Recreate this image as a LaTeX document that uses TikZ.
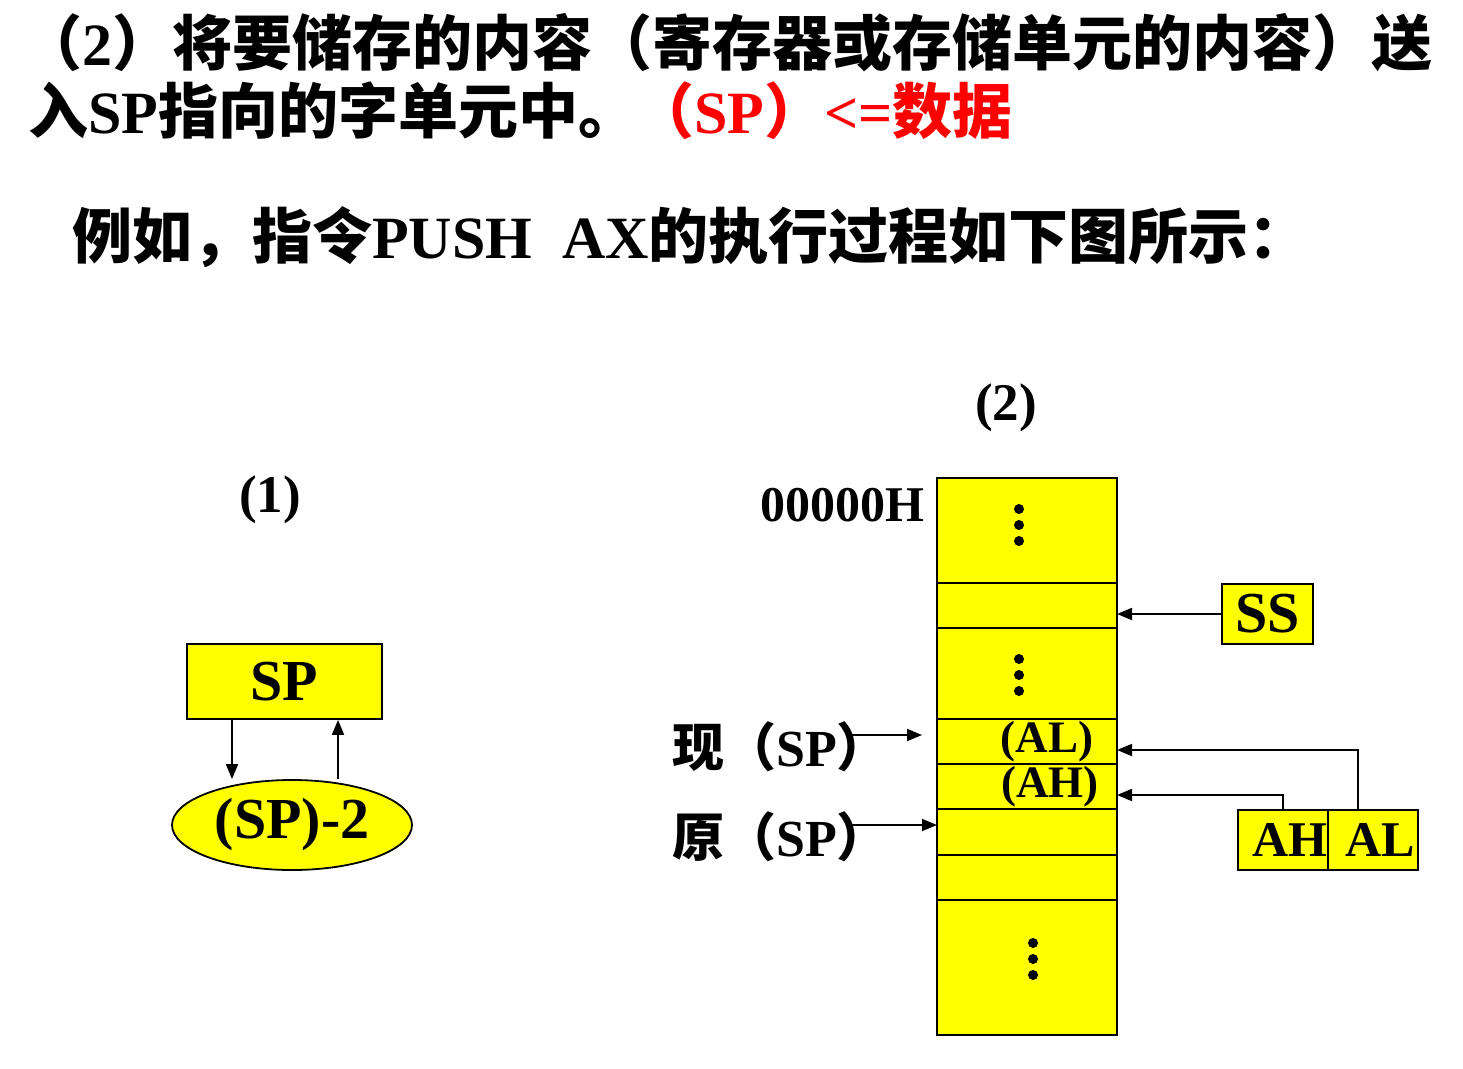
\documentclass[tikz,border=0pt]{standalone}
\usepackage{fontspec}
\setmainfont{Liberation Serif}[BoldFont={Liberation Serif Bold}]
\newfontfamily\cjk{Noto Sans CJK SC}
\usetikzlibrary{arrows.meta,shapes.geometric}
\definecolor{yel}{RGB}{255,255,0}
\definecolor{redt}{RGB}{255,0,0}
\newcommand\titlefont{\fontsize{60}{72}\selectfont\bfseries}
\begin{document}
\begin{tikzpicture}[x=1pt,y=-1pt,
  cell/.style={draw, line width=1.8pt, fill=yel, minimum width=180pt, inner sep=0pt, outer sep=0pt},
  ybox/.style={draw, line width=1.8pt, fill=yel, inner sep=0pt},
  arr/.style={-{Triangle[length=15pt,width=12pt]}, line width=1.8pt},
  lbl/.style={inner sep=0pt, font=\bfseries},
  dotc/.style={fill=black}]
\useasboundingbox (0,0) rectangle (1463,1068);
% title lines
\node[lbl, anchor=base west] (t1) at (22,65) {\titlefont{\cjk （}2{\cjk ）将要储存的内容（寄存器或存储单元的内容）送}};
\node[lbl, anchor=base west] (t2) at (28,133) {\titlefont{\cjk 入}SP{\cjk 指向的字单元中。}};
\node[lbl, anchor=base west, text=redt] (t2r) at (634,133) {\titlefont{\cjk （}SP{\cjk ）}<={\cjk 数据}};
\node[lbl, anchor=base west] (t3) at (72,258) {\titlefont{\cjk 例如，指令}PUSH\hspace{0.5em}AX{\cjk 的执行过程如下图所示：}};
% section labels
\node[lbl, font=\fontsize{53}{60}\selectfont\bfseries] (l2) at (1006,408) {(2)};
\node[lbl, font=\fontsize{53}{60}\selectfont\bfseries] (l1) at (270,500) {(1)};
% part (1)
\node[ybox, minimum width=195pt, minimum height=75pt, font=\fontsize{58}{62}\selectfont\bfseries] (sp) at (284.5,681.5) {SP};
\node[ybox, ellipse, minimum width=240pt, minimum height=90pt, font=\fontsize{58}{62}\selectfont\bfseries] (ell) at (292,825) {(SP)-2};
\draw[arr] ([xshift=-52.5pt]sp.south) -- ([xshift=-60pt]ell.north);
\draw[arr] ([xshift=46pt]ell.north) -- ([xshift=53.5pt]sp.south);
% memory column
\node[cell, minimum height=105pt] (c1) at (1027,530.5) {};
\node[cell, minimum height=45pt] (c2) at (1027,605.5) {};
\node[cell, minimum height=91pt] (c3) at (1027,673.5) {};
\node[cell, minimum height=45pt] (c4) at (1027,741.5) {};
\node[cell, minimum height=45pt] (c5) at (1027,786.5) {};
\node[cell, minimum height=46pt] (c6) at (1027,832) {};
\node[cell, minimum height=45pt] (c7) at (1027,877.5) {};
\node[cell, minimum height=135pt] (c8) at (1027,967.5) {};
\node[lbl, font=\fontsize{45}{48}\selectfont\bfseries] (al) at (1047,742) {(AL)};
\node[lbl, font=\fontsize{45}{48}\selectfont\bfseries] (ah) at (1050,787) {(AH)};
\foreach \yy in {509,525,541,659,675,691} \fill[dotc] (1019,\yy) circle (5);
\foreach \yy in {943,959,975} \fill[dotc] (1033,\yy) circle (5);
\node[lbl, anchor=east, font=\fontsize{50}{56}\selectfont\bfseries] (addr) at (925,505) {00000H};
% SS
\node[ybox, minimum width=91pt, minimum height=60pt, font=\fontsize{58}{62}\selectfont\bfseries] (ss) at (1267.5,614) {SS};
\draw[arr] (ss.west) -- (ss.west -| c2.east);
% AH AL register
\node[ybox, minimum width=90pt, minimum height=60pt, font=\fontsize{50}{54}\selectfont\bfseries] (rah) at (1283,840) {\hspace*{14pt}AH};
\node[ybox, minimum width=90pt, minimum height=60pt, font=\fontsize{50}{54}\selectfont\bfseries] (ral) at (1373,840) {\hspace*{14pt}AL};
\draw[arr] ([xshift=-15pt]ral.north) |- ([yshift=-8.5pt]c4.east);
\draw[arr] (rah.north) |- ([yshift=-8.5pt]c5.east);
% SP pointers
\node[lbl, anchor=east, font=\fontsize{52}{56}\selectfont\bfseries] (xsp) at (889,747) {{\cjk 现（}SP{\cjk ）}};
\node[lbl, anchor=east, font=\fontsize{52}{56}\selectfont\bfseries] (ysp) at (889,837) {{\cjk 原（}SP{\cjk ）}};
\coordinate (xa) at ([xshift=-41pt,yshift=12pt]xsp.east);
\coordinate (ya) at ([xshift=-41pt,yshift=12pt]ysp.east);
\draw[arr, shorten >=15pt] (xa) -- (xa -| c4.west);
\draw[arr] (ya) -- (ya -| c6.west);
\end{tikzpicture}
\end{document}
